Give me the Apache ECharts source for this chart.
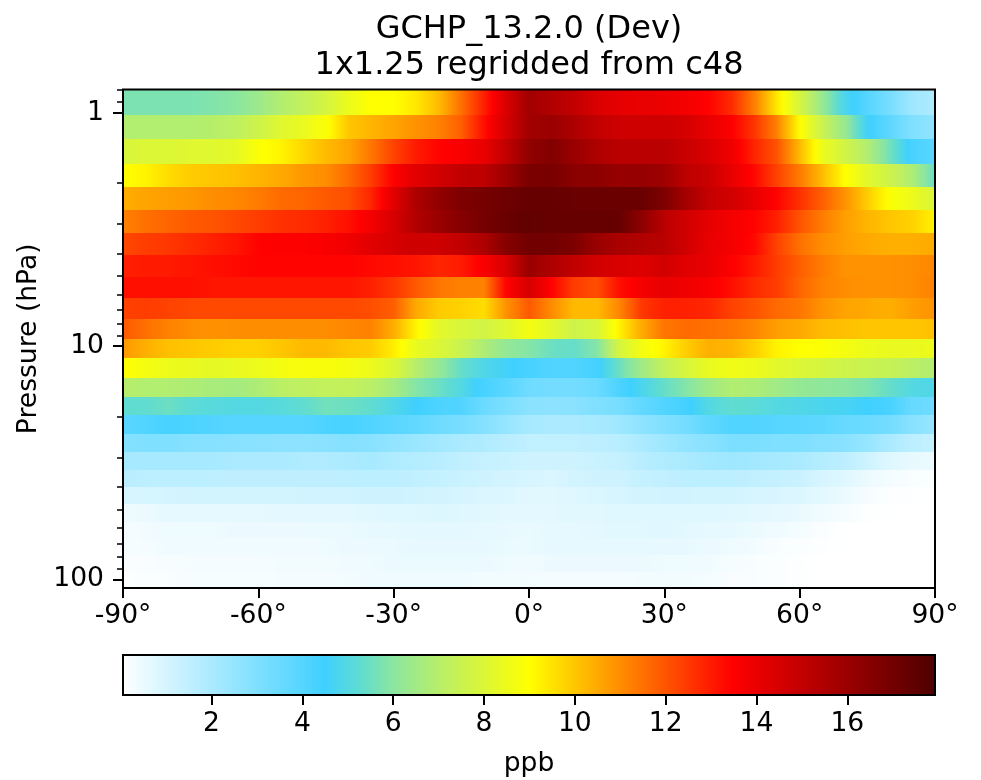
<!DOCTYPE html>
<html><head><meta charset="utf-8">
<style>html,body{margin:0;padding:0;background:#fff}#c{width:981px;height:780px}</style>
<script src="https://cdn.jsdelivr.net/npm/echarts@6/dist/echarts.min.js"></script>
</head><body><div id="c"></div>
<script>
const latitudes=[-90,-85,-80,-75,-70,-65,-60,-55,-50,-45,-40,-35,-30,-25,-20,-15,-10,-5,0,5,10,15,20,25,30,35,40,45,50,55,60,65,70,75,80,85,90];
const pressureEdges=[0.7951,1.0194,1.3005,1.6508,2.085,2.6202,3.2764,4.0766,5.0468,6.2168,7.6198,9.2929,11.2769,13.6434,16.4571,19.7916,23.7304,28.3678,33.81,40.1754,47.6439,56.3879,66.6034,78.5123,92.3657,108.663];
const level01=[5.75,5.75,5.75,5.75,5.85,6.0,6.4,6.9,7.3,7.8,8.5,9.0,9.0,9.4,10.2,11.5,12.9,14.4,15.8,15.4,15,14.4,14.1,14,13.9,13.7,13.4,12.7,11.2,9.4,7.8,6.3,4.8,4.0,3.2,2.3,1.9];
const level02=[6.9,6.9,6.9,6.9,7.0,7.2,7.6,8.1,8.4,8.9,10.0,10.3,10.6,10.9,11.2,11.8,13.2,14.5,15.8,16,15.5,15,14.7,14.7,14.7,14.5,14,13.5,12.5,11.2,9.0,7.5,6.3,4.6,3.8,3,2.6];
const level03=[7.9,8,8,8.1,8.1,8.3,8.9,9.2,9.7,10.2,10.6,11.4,12.3,13,13.4,13.6,14,15,16.2,16.6,16,15.5,15.2,15.2,15.2,14.8,14.4,13.8,12.8,12,10.2,8.5,7.7,6.9,5.6,4.3,3.9];
const level04=[9.0,9.2,9.6,9.9,10,10.1,10.3,10.5,10.8,11,11.6,12.4,13.5,14.2,14.6,15,15.1,15.9,16.8,16.8,16.4,16.3,16.1,16.1,15.9,15.1,14.8,14,13.3,12.3,11.3,10.2,9,8.2,7.6,6.8,5.4];
const level05=[10.4,10.6,10.7,10.8,11,11.1,11.3,11.6,11.7,11.9,12.1,12.8,14.2,15.5,16.2,16.7,16.9,17.1,17.3,17.3,17.2,17.2,17.2,17.2,16.7,15.7,14.9,14.6,14,13.4,12.6,11.8,10.9,9.9,8.9,8.5,7.9,7.4];
const level06=[11.2,11.5,11.7,11.9,12,12.2,12.4,12.6,12.7,12.9,13.2,13.7,14.5,15.4,16,16.5,16.9,17.2,17.4,17.3,17.3,17.3,17.3,16.3,15.2,14.6,14.1,13.7,13.4,12.9,12,11.3,10.7,10.3,10,9.8,9.2];
const level07=[12.2,12.4,12.5,12.7,12.9,13.1,13.4,13.5,13.5,13.6,13.8,14.2,14.5,14.7,14.7,15,15.5,16.5,17,17,16.7,16,15.6,15.4,15.2,14.6,14,13.7,13.3,12.3,11.5,11,10.7,10.5,10.4,10.4,10.5];
const level08=[12.9,13,13,13.1,13.2,13.3,13.4,13.4,13.4,13.4,13.4,13.3,13.2,13.1,12.8,13,13.6,14.4,16,15.5,15,14.6,14.4,14.3,14.6,14.2,14,13.5,13,12.4,11.8,11.3,10.9,10.9,10.9,11,11.1];
const level09=[13.2,13.2,13.2,13.2,13.1,13.1,13.1,13.1,13.1,13.1,13.1,12.9,12.5,11.9,11.4,11.2,11.2,13.4,14.5,13.4,12.4,12.1,13.2,13.7,14,13.8,13.6,13.2,12.7,12.4,11.7,11.2,11,10.9,10.9,11,11.2];
const level10=[12.3,12.4,12.3,12.2,12.2,12.2,12.2,12.2,12.2,12.2,12.2,12.1,11.8,10.5,9.9,9.8,9.6,10.9,11.9,11,10.2,10.2,11.1,12.5,12.9,12.9,12.8,12.3,12,11.6,11.4,10.9,10.6,10.5,10.4,10.7,10.9];
const level11=[11.9,11.5,11.2,11,10.9,11,11,11,11,11,11.1,11.2,10.4,9.2,8.2,7.9,7.7,8.1,8.7,8.2,7.6,7.9,9.2,10.5,11.4,11.6,11.5,11.4,11.1,10.7,10.5,10.2,10.1,10,10,10,10.1];
const level12=[10.8,10.4,10.1,10,9.9,9.8,9.8,10,10.2,10.2,10,9.9,9.3,8.4,8,7.5,6.8,6.2,5.9,5.5,5.4,5.9,7.8,8.7,9.2,9.9,10.4,10.3,9.8,9.2,9,8.9,8.7,8.5,8.4,8.4,8.5];
const level13=[9,8.7,8.5,8.4,8.3,8.4,8.5,8.7,8.8,8.8,8.7,8.5,8,7,6.2,5.4,4.9,4.6,4.3,4.1,4.1,4.4,5.5,6.5,7.3,7.9,8.4,8.6,8.5,8.2,8,7.8,7.6,7.5,7.4,7.1,6.9];
const level14=[7.0,6.9,6.9,6.8,6.7,6.6,6.8,7.1,7.2,7.3,7.3,7.1,6.6,5.9,5.5,5,4.3,3.9,3.4,3.3,3.3,3.5,4.2,4.8,5.4,5.9,6.5,6.9,6.8,6.5,6.2,6.1,6,5.8,5.4,5,4.9];
const level15=[5.3,5.3,5.5,5.2,5.1,5,5,5.1,5.3,5.6,5.5,5.3,4.9,4.5,4.2,4.1,3.5,3.1,2.8,2.7,2.8,3,3.2,3.7,4.1,4.4,5,5.3,5.2,5,4.9,4.8,4.7,4.5,4.3,3.6,3.4];
const level16=[3.9,4.1,4.3,4.2,4.1,4,4,4,4,4.2,4.3,4.1,3.9,3.7,3.4,3.2,2.9,2.5,2.1,2,2,2.1,2.3,2.7,3,3.3,3.8,4.1,4.1,4,3.9,3.8,3.6,3.5,3.3,2.8,2.5];
const level17=[2.9,3,3,2.9,2.9,2.8,2.8,2.7,2.7,2.8,2.9,2.8,2.6,2.4,2.2,2,1.9,1.7,1.5,1.5,1.5,1.6,1.7,2,2.3,2.6,2.8,3.1,3.1,3,3,2.9,2.8,2.5,2,1.6,1.4];
const level18=[2.1,2.1,2.1,2.1,2.1,2,2,2,1.9,1.9,2,2.1,1.9,1.8,1.7,1.5,1.4,1.3,1.2,1.2,1.2,1.3,1.4,1.7,1.9,2,2.2,2.3,2.2,2.1,2,1.8,1.6,1.2,0.8,0.6,0.5];
const level19=[1.7,1.6,1.6,1.6,1.6,1.55,1.55,1.55,1.55,1.55,1.6,1.6,1.6,1.5,1.4,1.3,1.2,1.1,1,0.9,1.1,1.2,1.2,1.4,1.5,1.6,1.6,1.6,1.5,1.4,1.3,1,0.8,0.5,0.3,0.2,0.15];
const level20=[1,1,1.05,1.1,1.1,1.1,1.1,1.1,1.15,1.15,1.15,1.2,1.2,1.15,1.1,1,0.9,0.85,0.75,0.75,0.8,0.9,1,1.1,1.15,1.15,1.1,1.1,1,0.95,0.85,0.7,0.5,0.25,0.12,0.08,0.06];
const level21=[0.45,0.5,0.65,0.65,0.65,0.65,0.65,0.7,0.7,0.7,0.7,0.75,0.8,0.8,0.85,0.8,0.75,0.7,0.7,0.7,0.75,0.75,0.8,0.8,0.8,0.8,0.8,0.75,0.7,0.65,0.55,0.4,0.25,0.1,0.07,0.05,0.05];
const level22=[0.3,0.35,0.45,0.45,0.45,0.5,0.5,0.5,0.5,0.55,0.55,0.6,0.65,0.7,0.7,0.7,0.65,0.6,0.55,0.65,0.65,0.7,0.75,0.75,0.8,0.7,0.65,0.6,0.5,0.4,0.3,0.15,0.05,0.05,0.05,0.05,0.05];
const level23=[0.25,0.3,0.4,0.4,0.4,0.4,0.4,0.4,0.4,0.45,0.5,0.5,0.55,0.6,0.6,0.6,0.6,0.55,0.55,0.6,0.65,0.65,0.65,0.65,0.6,0.6,0.5,0.45,0.35,0.2,0.15,0.1,0.05,0.05,0.05,0.05,0.05];
const level24=[0.2,0.2,0.25,0.3,0.3,0.3,0.3,0.35,0.35,0.35,0.4,0.45,0.5,0.55,0.55,0.55,0.5,0.45,0.4,0.5,0.5,0.5,0.5,0.5,0.45,0.45,0.4,0.25,0.2,0.15,0.1,0.05,0.05,0.05,0.05,0.05,0.05];
const level25=[0.12,0.15,0.2,0.25,0.25,0.25,0.25,0.3,0.3,0.3,0.35,0.4,0.4,0.4,0.4,0.4,0.35,0.35,0.35,0.3,0.3,0.3,0.3,0.35,0.35,0.35,0.3,0.2,0.2,0.15,0.1,0.06,0.05,0.05,0.05,0.05,0.05];
const levels=[level01,level02,level03,level04,level05,level06,level07,level08,level09,level10,level11,level12,level13,level14,level15,level16,level17,level18,level19,level20,level21,level22,level23,level24,level25];
const colorValues=[0.05,4.5,5.3,6,7.2,9,13.46,17.93];
const colorList=['#ffffff','#40d0ff','#60dcd0','#8be6a0','#bff060','#ffff00','#ff0000','#4d0000'];
const pressureLabels=[1,10,100];
const pressureMinor=[0.8,0.9,2,3,4,5,6,7,8,9,20,30,40,50,60,70,80,90];
const latitudeTicks=[-90,-60,-30,0,30,60,90];
const colorbarTicks=[2,4,6,8,10,12,14,16];
const titleText='GCHP_13.2.0 (Dev)\n1x1.25 regridded from c48';
const FONT='DejaVu Sans';

function hexRgb(h){return [1,3,5].map(i=>parseInt(h.substr(i,2),16));}
const rgbList=colorList.map(hexRgb);
function valueColor(v){
  const n=colorValues.length;
  if(v<=colorValues[0])return 'rgb('+rgbList[0]+')';
  for(let i=1;i<n;i++){
    if(v<=colorValues[i]){
      const t=(v-colorValues[i-1])/(colorValues[i]-colorValues[i-1]);
      const c=rgbList[i-1].map((a,k)=>Math.round(a+(rgbList[i][k]-a)*t));
      return 'rgb('+c+')';
    }
  }
  return 'rgb('+rgbList[n-1]+')';
}
const cells=[];
levels.forEach((row,r)=>{
  for(let i=0;i<latitudes.length-1;i++){
    cells.push([latitudes[i],latitudes[i+1],pressureEdges[r],pressureEdges[r+1],row[i],row[i+1]]);
  }
});
function renderCell(params,api){
  const a=api.coord([api.value(0),api.value(3)]);
  const b=api.coord([api.value(1),api.value(2)]);
  const v0=api.value(4),v1=api.value(5);
  const x0=Math.round(a[0]),x1=Math.round(b[0]);
  const y0=Math.round(Math.min(a[1],b[1])),y1=Math.round(Math.max(a[1],b[1]));
  const stops=[];
  for(let k=0;k<=6;k++){stops.push({offset:k/6,color:valueColor(v0+(v1-v0)*k/6)});}
  return {type:'rect',shape:{x:x0,y:y0,width:x1-x0,height:y1-y0},
    style:{fill:new echarts.graphic.LinearGradient(0,0,1,0,stops)}};
}
function renderFrame(params,api){
  const a=api.coord([api.value(0),api.value(2)]);
  const b=api.coord([api.value(1),api.value(3)]);
  return {type:'rect',shape:{x:a[0],y:a[1],width:b[0]-a[0],height:b[1]-a[1]},
    style:{fill:'none',stroke:'#000',lineWidth:2}};
}
function renderBar(params,api){
  const a=api.coord([api.value(0),0]);
  const b=api.coord([api.value(1),1]);
  const span=colorValues[colorValues.length-1]-colorValues[0];
  const stops=colorValues.map((v,i)=>({offset:(v-colorValues[0])/span,color:colorList[i]}));
  return {type:'rect',shape:{x:a[0],y:b[1],width:b[0]-a[0],height:a[1]-b[1]},
    style:{fill:new echarts.graphic.LinearGradient(0,0,1,0,stops),stroke:'#000',lineWidth:2}};
}
const chart=echarts.init(document.getElementById('c'),null,{renderer:'canvas'});
const labelBase={fontFamily:FONT,fontSize:26.6,color:'#000'};
const pMin=pressureEdges[0],pMax=pressureEdges[pressureEdges.length-1];
const cMin=colorValues[0],cMax=colorValues[colorValues.length-1];
chart.setOption({
  animation:false,
  backgroundColor:'#fff',
  title:{text:titleText,left:524,top:7,textAlign:'center',
    textStyle:{fontFamily:FONT,fontSize:32,fontWeight:'normal',color:'#000',lineHeight:36}},
  grid:[
    {left:123,top:89.5,width:812,height:498.5,containLabel:false,outerBoundsMode:'none'},
    {left:123,top:655,width:812,height:40,containLabel:false,outerBoundsMode:'none'}
  ],
  xAxis:[
    {type:'value',gridIndex:0,min:-90,max:90,interval:30,
     axisLine:{show:false},splitLine:{show:false},
     axisTick:{show:true,length:10,lineStyle:{color:'#000',width:2},customValues:latitudeTicks},
     axisLabel:{...labelBase,margin:15,customValues:latitudeTicks,formatter:v=>v+'°',showMinLabel:true,showMaxLabel:true}},
    {type:'value',gridIndex:1,min:cMin,max:cMax,
     axisLine:{show:false},splitLine:{show:false},
     axisTick:{show:true,length:10,lineStyle:{color:'#000',width:2},customValues:colorbarTicks},
     axisLabel:{...labelBase,margin:16,customValues:colorbarTicks},
     name:'ppb',nameLocation:'middle',nameGap:56,nameTextStyle:{fontFamily:FONT,fontSize:26.6,color:'#000'}}
  ],
  yAxis:[
    {type:'log',logBase:10,gridIndex:0,min:pMin,max:pMax,inverse:true,
     axisLine:{show:false},splitLine:{show:false},minorTick:{show:false},
     axisTick:{show:false},
     axisLabel:{...labelBase,margin:19,padding:[10,0,0,0],customValues:pressureLabels,formatter:v=>String(Math.round(v))},
     name:'Pressure (hPa)',nameLocation:'middle',nameGap:78,nameRotate:90,
     nameTextStyle:{fontFamily:FONT,fontSize:26.6,color:'#000'}},
    {type:'log',logBase:10,gridIndex:0,min:pMin,max:pMax,inverse:true,position:'left',
     axisLine:{show:false},splitLine:{show:false},minorTick:{show:false},
     axisTick:{show:true,length:6,lineStyle:{color:'#000',width:1.5},customValues:pressureMinor},
     axisLabel:{show:false}},
    {type:'value',gridIndex:1,min:0,max:1,show:false},
    {type:'log',logBase:10,gridIndex:0,min:pMin,max:pMax,inverse:true,position:'left',
     axisLine:{show:false},splitLine:{show:false},minorTick:{show:false},
     axisTick:{show:true,length:10,lineStyle:{color:'#000',width:2},customValues:pressureLabels},
     axisLabel:{show:false}}
  ],
  series:[
    {type:'custom',name:'ppb',xAxisIndex:0,yAxisIndex:0,renderItem:renderCell,data:cells,
     encode:{x:[0,1],y:[2,3]},z:2,silent:true},
    {type:'custom',xAxisIndex:0,yAxisIndex:0,renderItem:renderFrame,data:[[-90,90,pMin,pMax]],
     encode:{x:[0,1],y:[2,3]},z:5,silent:true},
    {type:'custom',xAxisIndex:1,yAxisIndex:2,renderItem:renderBar,data:[[cMin,cMax]],
     encode:{x:[0,1]},z:5,silent:true}
  ]
});
</script></body></html>
